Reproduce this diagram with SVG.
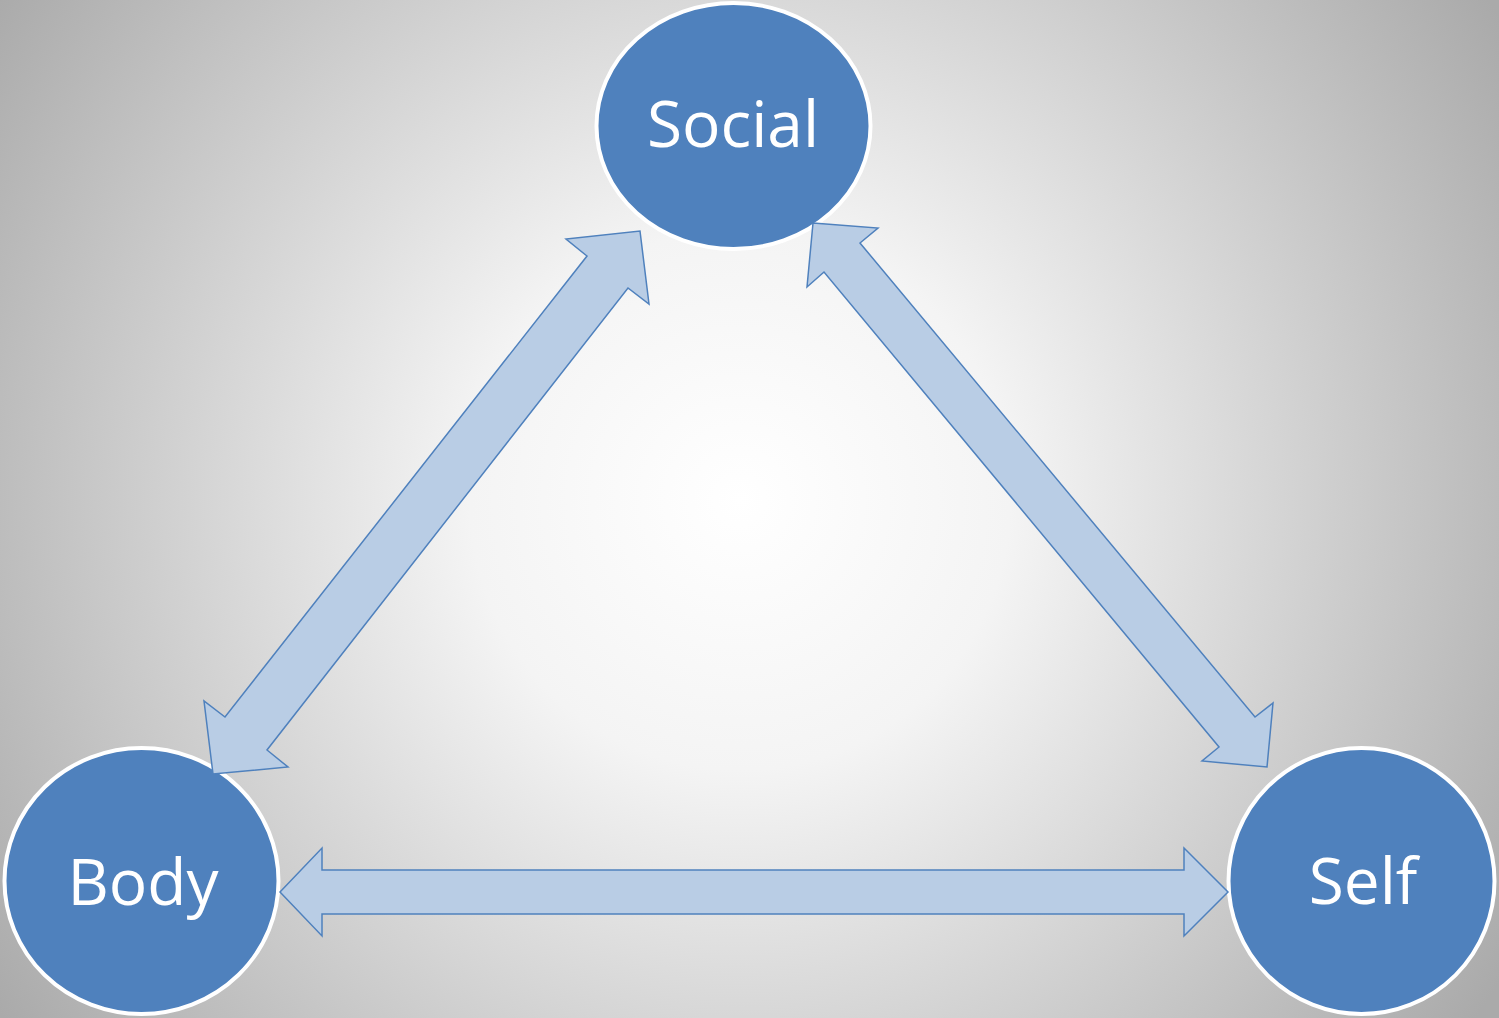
<svg xmlns="http://www.w3.org/2000/svg" width="1499" height="1018" viewBox="0 0 1499 1018">
<defs>
<radialGradient id="bg" gradientUnits="userSpaceOnUse" cx="740" cy="500" r="900">
<stop offset="0" stop-color="#ffffff"/>
<stop offset="0.3" stop-color="#f4f4f4"/>
<stop offset="1" stop-color="#aaaaaa"/>
</radialGradient>
<style>
.node{fill:#4f81bd;stroke:#ffffff;stroke-width:4}
.lbl{font-family:"Open Sans","Liberation Sans",sans-serif;font-size:64px;fill:#ffffff;text-anchor:middle}
.arr{fill:#b9cde5;stroke:#4f81bd;stroke-width:1.5;stroke-linejoin:miter}
</style>
</defs>
<rect x="0" y="0" width="1499" height="1018" fill="url(#bg)"/>
<g id="social">
<ellipse class="node" cx="733.5" cy="126" rx="137" ry="123"/>
<text class="lbl" x="733" y="147">Social</text>
</g>
<g id="body">
<ellipse class="node" cx="141.5" cy="881" rx="137" ry="133"/>
<text class="lbl" x="143" y="905">Body</text>
</g>
<g id="self">
<ellipse class="node" cx="1361.5" cy="881" rx="133" ry="133"/>
<text class="lbl" x="1363" y="904">Self</text>
</g>
<g id="connectors">
<polygon class="arr" points="640,231 649,304 628,288 267,750 288,767 213,774 204,701 225,717 587,256 566,239"/>
<polygon class="arr" points="813,223 878,228 860,243 1255,717 1273,703 1267,767 1202,761 1219,747 824,272 807,287"/>
<polygon class="arr" points="280,892 322,848 322,870 1184,870 1184,848 1228,892 1184,936 1184,914 322,914 322,936"/>
</g>
</svg>
